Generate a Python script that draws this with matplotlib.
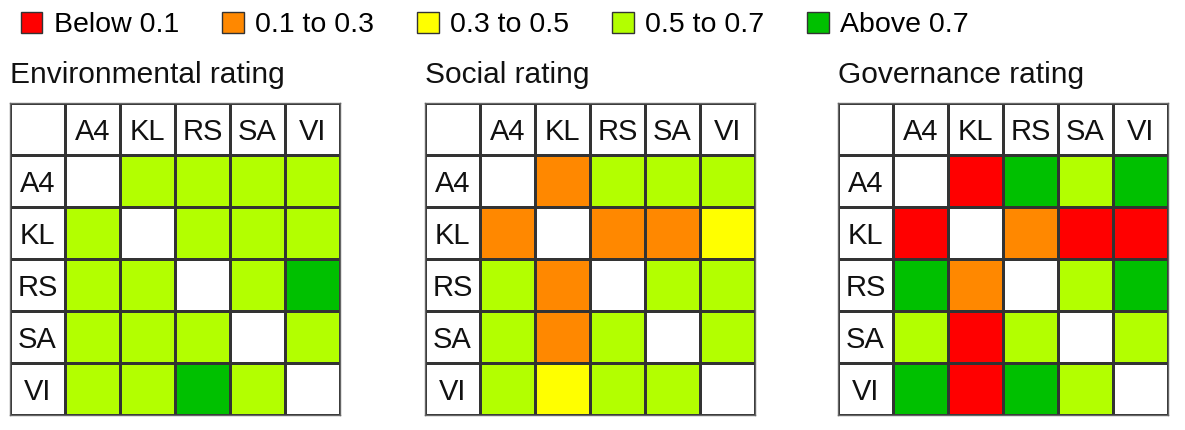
import matplotlib
matplotlib.use("Agg")
import matplotlib.pyplot as plt
import numpy as np
from matplotlib.colors import ListedColormap
from matplotlib.patches import Patch

plt.rcParams['font.family'] = ['Liberation Sans', 'DejaVu Sans']

codes = ["A4", "KL", "RS", "SA", "VI"]
bins = ["Below 0.1", "0.1 to 0.3", "0.3 to 0.5", "0.5 to 0.7", "Above 0.7"]
bin_colors = ["#FF0000", "#FF8800", "#FFFF00", "#B3FF00", "#00C000"]
titles = ["Environmental rating", "Social rating", "Governance rating"]

# rating bin index (0..4), None on the diagonal
environmental = [
    [None, 3, 3, 3, 3],
    [3, None, 3, 3, 3],
    [3, 3, None, 3, 4],
    [3, 3, 3, None, 3],
    [3, 3, 4, 3, None],
]
social = [
    [None, 1, 3, 3, 3],
    [1, None, 1, 1, 2],
    [3, 1, None, 3, 3],
    [3, 1, 3, None, 3],
    [3, 2, 3, 3, None],
]
governance = [
    [None, 0, 4, 3, 4],
    [0, None, 1, 0, 0],
    [4, 1, None, 3, 4],
    [3, 0, 3, None, 3],
    [4, 0, 4, 3, None],
]
matrices = [environmental, social, governance]

W, H = 1185, 430
fig = plt.figure(figsize=(W / 100, H / 100), dpi=100)

lefts = [10, 425, 838]
grid_w, grid_h = 330, 312
top = 103
cmap = ListedColormap(bin_colors)
cmap.set_bad("white")

for left, title, mat in zip(lefts, titles, matrices):
    ax = fig.add_axes([left / W, 1 - (top + grid_h) / H, grid_w / W, grid_h / H])
    n = len(codes) + 1
    data = np.full((n, n), np.nan)
    for i in range(len(codes)):
        for j in range(len(codes)):
            v = mat[i][j]
            if v is not None:
                data[i + 1, j + 1] = v
    ax.pcolormesh(np.arange(n + 1), np.arange(n + 1), np.ma.masked_invalid(data),
                  cmap=cmap, vmin=-0.5, vmax=4.5, edgecolors="#333333", linewidth=0.8)
    ax.set_xlim(0, n)
    ax.set_ylim(n, 0)
    for k, c in enumerate(codes):
        ax.text(k + 1.5, 0.55, c, ha="center", va="center", fontsize=21, color="#111111")
        ax.text(0.5, k + 1.55, c, ha="center", va="center", fontsize=21, color="#111111")
    ax.set_xticks([])
    ax.set_yticks([])
    for s in ax.spines.values():
        s.set_linewidth(1.0)
        s.set_color("#666666")
    fig.text(left / W, 1 - 83 / H, title, fontsize=21.5, ha="left", va="baseline", color="#111111")

handles = [Patch(facecolor=c, edgecolor="#333333", linewidth=1.0) for c in bin_colors]
fig.legend(handles, bins, loc="upper left", bbox_to_anchor=(12 / W, 1 - 3 / H), ncol=5,
           frameon=False, fontsize=20.5, handlelength=0.77, handleheight=0.77,
           handletextpad=0.4, columnspacing=1.5, borderaxespad=0, borderpad=0.3)

fig.savefig("out.png", dpi=100)
